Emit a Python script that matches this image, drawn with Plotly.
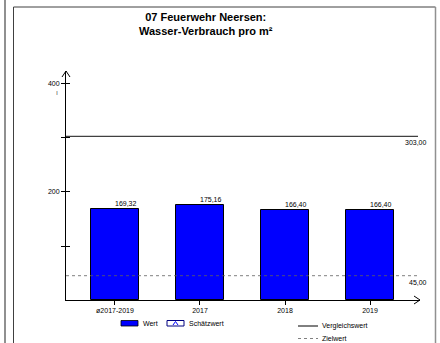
import plotly.graph_objects as go

# ---- data ----
categories = ["ø2017-2019", "2017", "2018", "2019"]
values = [169.32, 175.16, 166.40, 166.40]
value_labels = ["169,32", "175,16", "166,40", "166,40"]
vergleichswert = 303.00
zielwert = 45.00
y_tickvals = [100, 200, 300, 400]
y_ticktext = ["", "200", "", "400"]
title_lines = ["07 Feuerwehr Neersen:", "Wasser-Verbrauch pro m²"]

W, H = 440, 343
L, R, T, B = 66, 420, 72, 300  # plot area in pixels
FONT = "Liberation Sans, Arial, sans-serif"


def px(x):
    return (x - L) / (R - L)


def py(y):
    return (B - y) / (B - T)


x_pos = list(range(len(categories)))
x_range = [-0.576, 3.588]
y_range = [0, 422.2]

fig = go.Figure()
fig.add_trace(go.Bar(
    x=x_pos, y=values, width=0.565,
    marker=dict(color="#0000FF", line=dict(color="#000000", width=1)),
    showlegend=False, hoverinfo="skip",
))
# invisible trace for second y axis (inside ticks)
fig.add_trace(go.Scatter(x=[x_pos[0]], y=[values[0]], yaxis="y2", mode="markers",
                         marker=dict(opacity=0), showlegend=False, hoverinfo="skip"))

shapes = []
ann = []
small = dict(size=7, family=FONT, color="#000")

# reference lines
shapes.append(dict(type="line", xref="paper", yref="y", x0=0, x1=px(418),
                   y0=vergleichswert, y1=vergleichswert,
                   line=dict(color="#404040", width=1.3)))
shapes.append(dict(type="line", xref="paper", yref="y", x0=0, x1=px(418),
                   y0=zielwert, y1=zielwert,
                   line=dict(color="#606060", width=0.8, dash="dot")))
ann.append(dict(xref="paper", yref="y", x=px(429), y=vergleichswert, yshift=-1,
                text="303,00", showarrow=False, xanchor="right", yanchor="top", font=small))
ann.append(dict(xref="paper", yref="y", x=px(429), y=zielwert, yshift=-1,
                text="45,00", showarrow=False, xanchor="right", yanchor="top", font=small))

# value labels
for xi, v, lab in zip(x_pos, values, value_labels):
    ann.append(dict(xref="x", yref="y", x=xi + 0.2825, y=v, yshift=0,
                    text=lab, showarrow=False, xanchor="right", yanchor="bottom", font=small))

# axis arrows
shapes.append(dict(type="path", xref="paper", yref="paper",
                   path=f"M {px(62)} {py(77)} L {px(66)} {py(71)} L {px(70)} {py(77)}",
                   line=dict(color="#000", width=1)))
shapes.append(dict(type="line", xref="paper", yref="paper", x0=0, x1=0, y0=1, y1=py(71),
                   line=dict(color="#000", width=1)))
shapes.append(dict(type="path", xref="paper", yref="paper",
                   path=f"M {px(414)} {py(296)} L {px(420)} {py(300)} L {px(414)} {py(304)}",
                   line=dict(color="#000", width=1)))
# small mark under 400 label
ann.append(dict(xref="paper", yref="paper", x=px(57), y=py(92), text="ı", showarrow=False,
                xanchor="center", yanchor="middle", font=dict(size=7, family=FONT, color="#555")))

# frame lines
shapes.append(dict(type="line", xref="paper", yref="paper", x0=px(5), x1=px(5), y0=py(0), y1=py(343),
                   line=dict(color="#909090", width=2)))
shapes.append(dict(type="line", xref="paper", yref="paper", x0=px(13.5), x1=px(13.5), y0=py(7), y1=py(343),
                   line=dict(color="#404040", width=1)))
shapes.append(dict(type="line", xref="paper", yref="paper", x0=px(13.5), x1=px(435.5), y0=py(7), y1=py(7),
                   line=dict(color="#404040", width=1)))
shapes.append(dict(type="line", xref="paper", yref="paper", x0=px(435.5), x1=px(435.5), y0=py(7), y1=py(343),
                   line=dict(color="#909090", width=1.5)))

# legend
shapes.append(dict(type="rect", xref="paper", yref="paper", x0=px(121), x1=px(138), y0=py(320.5), y1=py(326),
                   fillcolor="#0000FF", line=dict(color="#000", width=0.8)))
ann.append(dict(xref="paper", yref="paper", x=px(141), y=py(323.5), text="Wert", showarrow=False,
                xanchor="left", yanchor="middle", font=small))
shapes.append(dict(type="rect", xref="paper", yref="paper", x0=px(167), x1=px(184), y0=py(320.5), y1=py(326),
                   fillcolor="#FFFFFF", line=dict(color="#000080", width=1)))
shapes.append(dict(type="path", xref="paper", yref="paper",
                   path=f"M {px(173)} {py(325)} L {px(175.5)} {py(321.5)} L {px(178)} {py(325)}",
                   line=dict(color="#0000FF", width=1)))
ann.append(dict(xref="paper", yref="paper", x=px(187), y=py(323.5), text="Schätzwert", showarrow=False,
                xanchor="left", yanchor="middle", font=small))
shapes.append(dict(type="line", xref="paper", yref="paper", x0=px(298), x1=px(318), y0=py(326), y1=py(326),
                   line=dict(color="#000", width=1)))
ann.append(dict(xref="paper", yref="paper", x=px(320), y=py(325.5), text="Vergleichswert", showarrow=False,
                xanchor="left", yanchor="middle", font=small))
shapes.append(dict(type="line", xref="paper", yref="paper", x0=px(298), x1=px(318), y0=py(338.5), y1=py(338.5),
                   line=dict(color="#606060", width=0.8, dash="dot")))
ann.append(dict(xref="paper", yref="paper", x=px(320), y=py(338), text="Zielwert", showarrow=False,
                xanchor="left", yanchor="middle", font=small))

# title
ann.append(dict(xref="paper", yref="paper", x=px(206), y=py(9),
                text="<br>".join(f"<b>{t}</b>" for t in title_lines), showarrow=False,
                xanchor="center", yanchor="top", align="center",
                font=dict(size=11, family=FONT, color="#000")))

fig.update_layout(
    width=W, height=H,
    margin=dict(l=L, r=W - R, t=T, b=H - B, pad=0),
    paper_bgcolor="#FFFFFF", plot_bgcolor="#FFFFFF",
    font=dict(family=FONT, size=7, color="#000"),
    showlegend=False,
    bargap=0,
    xaxis=dict(range=x_range, tickvals=x_pos, ticktext=categories, showgrid=False, zeroline=False,
               showline=True, linecolor="#000", linewidth=1, ticks="outside", ticklen=4,
               tickcolor="#000", tickfont=small, fixedrange=True),
    yaxis=dict(range=y_range, tickvals=y_tickvals, ticktext=y_ticktext, showgrid=False, zeroline=False,
               showline=True, linecolor="#000", linewidth=1, ticks="outside", ticklen=4,
               tickcolor="#000", tickfont=small, fixedrange=True),
    yaxis2=dict(range=y_range, overlaying="y", side="left", tickvals=y_tickvals, showticklabels=False,
                showgrid=False, zeroline=False, showline=False, ticks="inside", ticklen=4,
                tickcolor="#000", fixedrange=True),
    shapes=shapes,
    annotations=ann,
)

fig.write_html("out.html", config={"displayModeBar": False},
               post_script="document.body.style.margin='0';document.body.style.overflow='hidden';")
